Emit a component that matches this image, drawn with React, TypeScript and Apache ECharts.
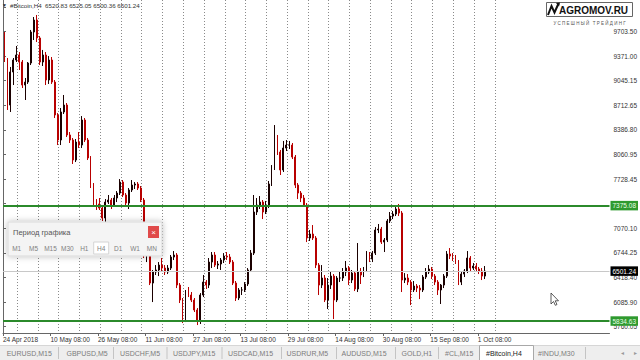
import React, { useEffect, useRef } from 'react';
import * as echarts from 'echarts';

// ---------- data ----------
const symbolTitle = '#Bitcoin,H4';
const lastBar = [6520.83, 6525.05, 6500.36, 6501.24]; // O H L C of the last H4 bar
const firstOpen = 9519;

const dailyClose = [
  9319, 8718, 9159, 9319, 9386, 9292, 8985, 9025, 9279, 9693,
  9853, 9613, 9292, 9386, 9052, 9319, 9025, 8585, 8251, 8625,
  8718, 8318, 8251, 7984, 8224, 8184, 8518, 8251, 8011, 7650,
  7423, 7397, 7343, 7210, 7423, 7450, 7383, 7477, 7543, 7690,
  7517, 7410, 7584, 7650, 7664, 7610, 7450, 6716, 6716, 6342,
  6489, 6516, 6582, 6542, 6489, 6542, 6689, 6716, 6315, 6115,
  5875, 6222, 6182, 6115, 5982, 5848, 6182, 6355, 6315, 6622,
  6716, 6582, 6596, 6649, 6702, 6689, 6622, 6342, 6142, 6249,
  6249, 6329, 6516, 6742, 7290, 7383, 7423, 7290, 7370, 7664,
  7877, 8251, 8091, 7851, 8144, 8184, 8184, 8024, 7650, 7543,
  7477, 7383, 6943, 6996, 6943, 6582, 6315, 6409, 6115, 6315,
  6435, 6115, 6409, 6409, 6489, 6542, 6382, 6475, 6262, 6489,
  6449, 6516, 6716, 6662, 6742, 7050, 7063, 6889, 6916, 7170,
  7236, 7263, 7330, 7276, 6382, 6409, 6355, 6249, 6302, 6275,
  6249, 6422, 6489, 6529, 6435, 6355, 6249, 6315, 6435, 6729,
  6702, 6676, 6622, 6355, 6462, 6502, 6676, 6542, 6569, 6529,
  6502, 6435, 6501.24,
];
const dailyHigh = [
  9693, 9346, 9226, 9346, 9506, 9426, 9319, 9079, 9292, 9720,
  9893, 9920, 9639, 9453, 9426, 9372, 9359, 9052, 8611, 8678,
  8852, 8745, 8358, 8278, 8264, 8358, 8571, 8545, 8278, 8037,
  7677, 7463, 7477, 7370, 7463, 7517, 7477, 7517, 7570, 7730,
  7717, 7543, 7610, 7717, 7690, 7690, 7637, 7477, 6783, 6756,
  6516, 6582, 6622, 6676, 6582, 6582, 6716, 6769, 6742, 6342,
  6142, 6249, 6289, 6222, 6142, 6008, 6208, 6449, 6382, 6676,
  6756, 6756, 6636, 6676, 6742, 6756, 6729, 6649, 6369, 6275,
  6289, 6355, 6542, 6783, 7517, 7477, 7503, 7450, 7437, 7704,
  7917, 8451, 8318, 8118, 8238, 8251, 8238, 8211, 8051, 7677,
  7570, 7517, 7410, 7050, 7116, 6969, 6609, 6582, 6449, 6409,
  6502, 6462, 6435, 6502, 6542, 6636, 6569, 6516, 6502, 6876,
  6542, 6556, 6769, 6756, 6769, 7090, 7130, 7090, 6943, 7196,
  7290, 7303, 7370, 7397, 7303, 6475, 6462, 6382, 6369, 6329,
  6315, 6449, 6542, 6582, 6556, 6462, 6382, 6329, 6462, 6769,
  6809, 6742, 6716, 6649, 6489, 6529, 6769, 6702, 6609, 6609,
  6556, 6542, 6569,
];
const dailyLow = [
  9292, 8652, 8625, 8985, 9292, 9186, 8945, 8785, 8999, 9252,
  9586, 9559, 9252, 9239, 8985, 8999, 8999, 8545, 8184, 8184,
  8598, 8291, 8211, 7931, 7957, 8144, 8144, 8224, 7984, 7610,
  7383, 7317, 7317, 7170, 7156, 7397, 7330, 7357, 7423, 7517,
  7490, 7383, 7330, 7557, 7597, 7584, 7423, 6676, 6622, 6315,
  6088, 6449, 6435, 6502, 6449, 6462, 6516, 6649, 6275, 6075,
  5808, 5821, 6155, 6088, 5955, 5781, 5795, 6155, 6262, 6275,
  6542, 6556, 6529, 6516, 6609, 6649, 6596, 6315, 6102, 6115,
  6182, 6222, 6302, 6489, 6716, 7250, 7330, 7196, 7263, 7343,
  7637, 7851, 8051, 7784, 7824, 8104, 8131, 7997, 7610, 7463,
  7423, 7357, 6889, 6903, 6916, 6542, 6182, 6275, 6088, 5995,
  6262, 5861, 6088, 6355, 6369, 6435, 6315, 6342, 6235, 6222,
  6329, 6422, 6489, 6622, 6622, 6716, 7009, 6863, 6756, 6889,
  7143, 7196, 7236, 7236, 6222, 6342, 6315, 6048, 6222, 6222,
  6128, 6222, 6395, 6462, 6395, 6315, 6182, 6062, 6275, 6409,
  6662, 6636, 6596, 6315, 6315, 6422, 6475, 6489, 6516, 6489,
  6462, 6382, 6395,
];

const resistanceLevel = 7375.08;
const supportLevel = 5834.63;
const bidPrice = 6501.24;

// price scale ticks (the 10029.35 and 7402.60 labels are hidden behind the logo / level label)
const yTickValues = [10029.35, 9703.5, 9371.0, 9045.15, 8712.65, 8386.8, 8060.95, 7728.45, 7402.6,
  7070.1, 6744.25, 6418.4, 6085.9, 5760.05];
const yLabelValues = [9703.5, 9371.0, 9045.15, 8712.65, 8386.8, 8060.95, 7728.45,
  7070.1, 6744.25, 6418.4, 6085.9, 5760.05];
const xTickDays = [0, 16, 32, 48, 64, 80, 96, 112, 128, 144, 160];
const xTickLabels = ['24 Apr 2018', '10 May 08:00', '26 May 08:00', '11 Jun 08:00', '27 Jun 08:00',
  '13 Jul 08:00', '29 Jul 08:00', '14 Aug 08:00', '30 Aug 08:00', '15 Sep 08:00', '1 Oct 08:00'];
const firstWeekLineDay = 4.667; // Sunday 29 Apr 00:00, days after 24 Apr 08:00

const tabs = ['EURUSD,M15', 'GBPUSD,M5', 'USDCHF,M5', 'USDJPY,M15', 'USDCAD,M15', 'USDRUR,M5',
  'AUDUSD,M15', 'GOLD,H1', '#CL,M15', '#Bitcoin,H4', '#INDU,M30'];
const activeTab = '#Bitcoin,H4';
const periods = ['M1', 'M5', 'M15', 'M30', 'H1', 'H4', 'D1', 'W1', 'MN'];
const activePeriod = 'H4';
const dialogTitle = 'Период графика';
const logoText = 'AGROMOV.RU';
const logoSub = 'УСПЕШНЫЙ ТРЕЙДИНГ';

// ---------- layout ----------
const tabTextX = [6.7, 66.5, 120, 173, 228, 286.5, 341.5, 401.5, 445, 486, 538];
const tabSepX = [58, 113, 166.5, 221.5, 281, 336, 395, 438, 585];
const FONT = '"Liberation Sans", Arial, sans-serif';
const font = (size: number, weight = 'normal') => `${weight} ${size}px ${FONT}`;

export default function App() {
  const ref = useRef<HTMLDivElement>(null);
  useEffect(() => {
    const chart = echarts.init(ref.current!, null, { renderer: 'svg' });

    const candles = dailyClose.map((c, i) => [
      i + 0.5,
      i === 0 ? firstOpen : dailyClose[i - 1],
      c,
      dailyLow[i],
      dailyHigh[i],
    ]);
    const weekLines: number[][] = [];
    for (let d = firstWeekLineDay; d <= dailyClose.length + 3; d += 7) weekLines.push([d]);

    const Z = 100;
    const g: any[] = [];
    const txt = (x: number, y: number, text: string, f: string, fill: string, align = 'left', z = Z + 3) =>
      g.push({ type: 'text', x, y, z, silent: true, style: { text, font: f, fill, textAlign: align, textVerticalAlign: 'middle' } });

    // header
    txt(2, 5, '▼', font(5), '#333');
    txt(10, 5, `${symbolTitle}  ${lastBar.map((v) => v.toFixed(2)).join(' ')}`, font(6.2), '#333');

    // logo
    g.push({ type: 'rect', z: Z, silent: true, shape: { x: 546.5, y: 2.5, width: 86, height: 14 },
      style: { fill: 'rgba(255,255,255,0.7)', stroke: '#666', lineWidth: 1 } });
    g.push({ type: 'polyline', z: Z + 1, silent: true, shape: { points: [[548, 15], [551.5, 6], [554.5, 12.5], [558.5, 3.5]] },
      style: { stroke: '#111', lineWidth: 2, fill: null } });
    g.push({ type: 'polygon', z: Z + 1, silent: true, shape: { points: [[556, 3], [560, 2.5], [559, 6.5]] },
      style: { fill: '#111' } });
    txt(559, 10, logoText, font(10, 'bold'), '#111');
    txt(589.5, 23, logoSub.split('').join(' '), font(4.5), '#555', 'center');

    // period dialog
    g.push({ type: 'rect', z: Z, silent: true, shape: { x: 8, y: 222, width: 154, height: 34 },
      style: { fill: '#f4f4f4', stroke: '#dadada', lineWidth: 1, shadowBlur: 6, shadowColor: 'rgba(0,0,0,0.25)' } });
    txt(13, 232, dialogTitle, font(7.5), '#555');
    g.push({ type: 'rect', z: Z + 1, silent: true, shape: { x: 148, y: 226, width: 11, height: 12 },
      style: { fill: '#e04a4a' } });
    txt(153.5, 232, '×', font(8), '#ffffff', 'center');
    periods.forEach((p, i) => {
      const cx = 16.7 + 16.9 * i;
      if (p === activePeriod) {
        g.push({ type: 'rect', z: Z + 1, silent: true, shape: { x: cx - 7.5, y: 242, width: 15, height: 12 },
          style: { fill: '#ffffff', stroke: '#d4d4d4', lineWidth: 1 } });
      }
      txt(cx, 248.5, p, font(6.5), '#808080', 'center');
    });

    // tab bar
    g.push({ type: 'rect', z: Z, silent: true, shape: { x: 0, y: 345, width: 640, height: 15 }, style: { fill: '#eeeeee' } });
    g.push({ type: 'line', z: Z, silent: true, shape: { x1: 0, y1: 345.5, x2: 640, y2: 345.5 }, style: { stroke: '#d6d6d6', lineWidth: 1 } });
    tabSepX.forEach((x) => g.push({ type: 'line', z: Z + 1, silent: true,
      shape: { x1: x + 0.5, y1: 347, x2: x + 0.5, y2: 359 }, style: { stroke: '#c4c4c4', lineWidth: 1 } }));
    g.push({ type: 'rect', z: Z + 1, silent: true, shape: { x: 479.5, y: 345.5, width: 54, height: 15 },
      style: { fill: '#ffffff', stroke: '#a8a8a8', lineWidth: 1 } });
    tabs.forEach((t, i) => txt(tabTextX[i], 353, t, font(7), t === activeTab ? '#222' : '#7c7c7c'));
    txt(622, 353, '◂', font(6), '#999', 'center');
    txt(635, 353, '▸', font(6), '#999', 'center');

    // mouse cursor
    const cx0 = 551, cy0 = 293;
    g.push({ type: 'polygon', z: Z + 5, silent: true,
      shape: { points: [[0, 0], [0, 11], [2.5, 8.5], [4.3, 12.3], [6, 11.5], [4.2, 7.8], [7.5, 7.8]].map(([a, b]) => [cx0 + a, cy0 + b]) },
      style: { fill: '#fff', stroke: '#333', lineWidth: 0.8 } });

    const levelLabel = (v: number, bg: string, color: string) => ({
      show: true, position: 'end', distance: 1, formatter: v.toFixed(2), backgroundColor: bg, color,
      fontSize: 6.5, fontFamily: FONT, padding: [1.5, 2, 1, 2],
    });

    const option: any = {
      animation: false,
      backgroundColor: '#ffffff',
      textStyle: { fontFamily: FONT },
      grid: { left: 0, right: 28, top: 0, bottom: 27, containLabel: false },
      xAxis: {
        type: 'value', min: 0, max: 204.4,
        splitLine: { show: false },
        axisLine: { show: true, lineStyle: { color: '#666', width: 1 } },
        axisTick: { show: true, customValues: xTickDays, length: 3, lineStyle: { color: '#666' } },
        axisLabel: {
          customValues: xTickDays, formatter: (v: number) => xTickLabels[xTickDays.indexOf(v)] ?? '',
          align: 'left', fontSize: 6.5, color: '#333', margin: 3, fontFamily: FONT,
        },
      },
      yAxis: {
        type: 'value', position: 'right', min: 5675, max: 10120, scale: true,
        splitLine: { show: false },
        axisLine: { show: true, lineStyle: { color: '#666', width: 1 } },
        axisTick: { show: true, customValues: yTickValues, length: 3, lineStyle: { color: '#666' } },
        axisLabel: {
          customValues: yLabelValues, formatter: (v: number) => v.toFixed(2),
          fontSize: 6.5, color: '#333', margin: 4, fontFamily: FONT,
        },
      },
      series: [
        {
          type: 'custom', name: 'weeks', z: 1, silent: true, data: weekLines, encode: { x: 0 },
          renderItem: (params: any, api: any) => {
            const x = Math.round(api.coord([api.value(0), 6000])[0]) + 0.5;
            const cs = params.coordSys;
            return { type: 'line', shape: { x1: x, y1: cs.y, x2: x, y2: cs.y + cs.height },
              style: { stroke: '#8a8a8a', lineWidth: 1, lineDash: [1, 2] } };
          },
        },
        {
          type: 'candlestick', name: 'BTC', z: 3, silent: true, data: candles, barWidth: 1.4,
          itemStyle: { color: '#1a0000', color0: '#b80000', borderColor: '#1a0000', borderColor0: '#b80000', borderWidth: 1 },
          markLine: {
            silent: true, symbol: ['none', 'none'], precision: 2,
            data: [
              { yAxis: bidPrice, lineStyle: { color: '#c8c8c8', width: 1, type: 'solid' }, label: levelLabel(bidPrice, '#000000', '#ffffff') },
              { yAxis: resistanceLevel, lineStyle: { color: '#2b8a2b', width: 2, type: 'solid' }, label: levelLabel(resistanceLevel, '#2f9a2f', '#e8ffe8') },
              { yAxis: supportLevel, lineStyle: { color: '#2b8a2b', width: 2, type: 'solid' }, label: levelLabel(supportLevel, '#2f9a2f', '#e8ffe8') },
            ],
          },
        },
      ],
      graphic: { elements: g },
    };
    chart.setOption(option);
    return () => chart.dispose();
  }, []);
  return <div ref={ref} style={{ position: 'fixed', left: 0, top: 0, width: 640, height: 360, background: '#fff' }} />;
}
